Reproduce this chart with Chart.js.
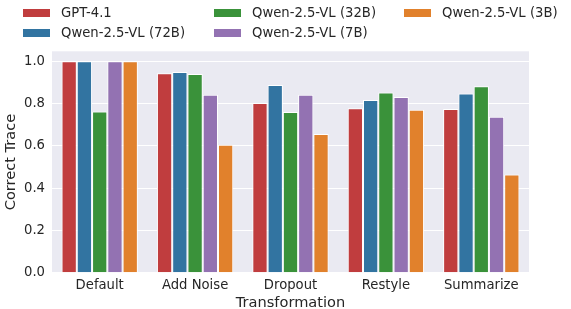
<!DOCTYPE html>
<html>
<head>
<meta charset="utf-8">
<script src="https://cdn.jsdelivr.net/npm/chart.js@4"></script>
<style>
  body { margin: 0; background: #fff; }
  #wrap { position: relative; width: 571px; height: 309px; }
  #legend { position: absolute; left: 0; top: 0; font-family: "DejaVu Sans", sans-serif; font-size: 13.2px; color: #262626; }
  .item { position: absolute; white-space: nowrap; }
  .sw { position: absolute; width: 27px; height: 8px; left: 0; top: 0; }
  .lbl { position: absolute; left: 38px; top: -5px; line-height: 18px; }
</style>
</head>
<body>
<div id="wrap">
  <canvas id="myChart" width="571" height="309"></canvas>
  <div id="legend"></div>
</div>
<script>
//Data
var categories = ["Default", "Add Noise", "Dropout", "Restyle", "Summarize"];
var models = ["GPT-4.1", "Qwen-2.5-VL (72B)", "Qwen-2.5-VL (32B)", "Qwen-2.5-VL (7B)", "Qwen-2.5-VL (3B)"];
var colors = ["#c03d3e", "#3274a1", "#3a923a", "#9372b2", "#e1812c"];
var gpt41 = [1.0, 0.943, 0.803, 0.778, 0.774];
var qwen72b = [1.0, 0.949, 0.888, 0.817, 0.847];
var qwen32b = [0.762, 0.94, 0.76, 0.852, 0.882];
var qwen7b = [1.0, 0.842, 0.842, 0.831, 0.738];
var qwen3b = [1.0, 0.605, 0.656, 0.771, 0.464];
var yTicks = [0, 0.2, 0.4, 0.6, 0.8, 1.0];

var series = [gpt41, qwen72b, qwen32b, qwen7b, qwen3b];
var textColor = "#262626";

var datasets = [];
for (var i = 0; i < models.length; i++) {
  datasets.push({
    label: models[i],
    data: series[i],
    backgroundColor: colors[i],
    borderColor: "#ffffff",
    borderWidth: 1,
    borderSkipped: "bottom",
    categoryPercentage: 0.8,
    barPercentage: 1.0,
  });
}

//legend in 3 columns, filled column by column like matplotlib
var legendBox = document.getElementById("legend");
var colX = [23, 214, 404];
var rowY = [9, 29];
for (var i = 0; i < models.length; i++) {
  var item = document.createElement("div");
  item.className = "item";
  item.style.left = colX[Math.floor(i / 2)] + "px";
  item.style.top = rowY[i % 2] + "px";
  item.innerHTML = '<span class="sw" style="background:' + colors[i] + '"></span><span class="lbl">' + models[i] + "</span>";
  legendBox.appendChild(item);
}

var plotBg = {
  id: "plotBg",
  beforeDraw: function (chart) {
    var a = chart.chartArea;
    var ctx = chart.ctx;
    ctx.save();
    ctx.fillStyle = "#eaeaf2";
    ctx.fillRect(a.left, a.top, a.right - a.left, a.bottom - a.top);
    ctx.restore();
  },
};

var font = { family: "'DejaVu Sans', sans-serif", size: 13.2 };

var myChart = new Chart(document.getElementById("myChart"), {
  type: "bar",
  data: { labels: categories, datasets: datasets },
  plugins: [plotBg],
  options: {
    responsive: false,
    animation: false,
    layout: { padding: { top: 51.3, left: 0, right: 42, bottom: 0 } },
    plugins: { legend: { display: false }, tooltip: { enabled: false } },
    scales: {
      x: {
        grid: { display: false, drawTicks: false },
        border: { display: false },
        ticks: { color: textColor, font: font, padding: 5 },
        title: {
          display: true,
          text: "Transformation",
          color: textColor,
          font: { family: "'DejaVu Sans', sans-serif", size: 14.6, lineHeight: 0.8 },
          padding: { top: 0, bottom: 0 },
        },
        afterFit: function (scale) {
          scale.height = 36.3;
        },
      },
      y: {
        min: 0,
        max: 1.047,
        grid: { color: "#ffffff", lineWidth: 1, drawTicks: false },
        border: { display: false },
        ticks: {
          color: textColor,
          font: font,
          padding: 7,
          callback: function (v) {
            return v.toFixed(1);
          },
        },
        afterBuildTicks: function (scale) {
          scale.ticks = yTicks.map(function (v) {
            return { value: v };
          });
        },
        title: {
          display: true,
          text: "Correct Trace",
          color: textColor,
          font: { family: "'DejaVu Sans', sans-serif", size: 14.6, lineHeight: 1.6 },
          padding: { top: 0, bottom: 0 },
        },
        afterFit: function (scale) {
          scale.width = 52;
        },
      },
    },
  },
});
</script>
</body>
</html>
